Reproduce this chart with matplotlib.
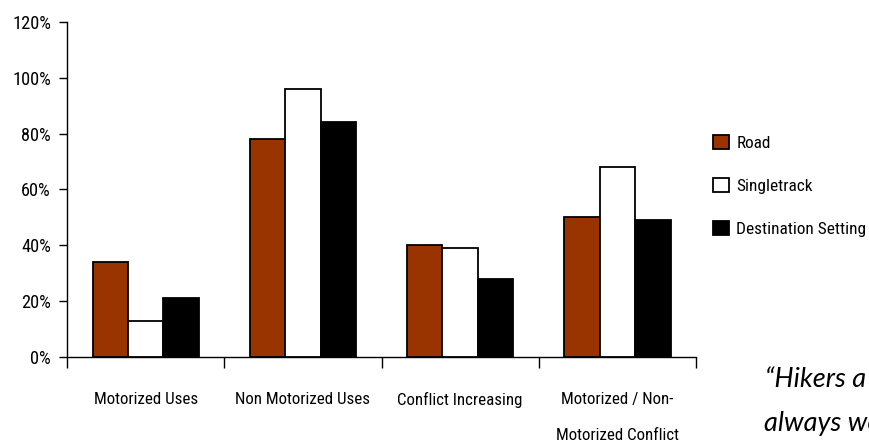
import matplotlib
matplotlib.use("Agg")
import matplotlib.pyplot as plt
from matplotlib.patches import Patch
import numpy as np

categories = ["Motorized Uses", "Non Motorized Uses", "Conflict Increasing",
              "Motorized / Non-\nMotorized Conflict"]
series_names = ["Road", "Singletrack", "Destination Setting"]
road = [34, 78, 40, 50]
singletrack = [13, 96, 39, 68]
destination = [21, 84, 28, 49]
y_ticks = [0, 20, 40, 60, 80, 100, 120]
y_tick_labels = ["0%", "20%", "40%", "60%", "80%", "100%", "120%"]

colors = ["#993300", "#FFFFFF", "#000000"]
font = ["Roboto Condensed", "DejaVu Sans"]
stretch = "condensed"

fig = plt.figure(figsize=(8.69, 4.45), dpi=100)
ax = fig.add_axes([0.0771, 0.1978, 0.7239, 0.7528])

x = np.arange(len(categories))
width = 0.225
for i, (vals, col) in enumerate(zip([road, singletrack, destination], colors)):
    ax.bar(x + (i - 1) * width, vals, width, color=col, edgecolor="black",
           linewidth=1.3, label=series_names[i], zorder=3)

ax.set_xlim(-0.5, len(categories) - 0.5)
ax.set_ylim(0, 120)
ax.set_yticks(y_ticks)
ax.set_yticklabels(y_tick_labels, fontfamily=font, fontstretch=stretch, fontsize=13.2)
ax.set_xticks(x)
ax.set_xticklabels(categories, fontfamily=font, fontstretch=stretch, fontsize=12.2,
                   linespacing=2.75)
ax.tick_params(axis="x", length=0, pad=25)
ax.set_xticks(np.arange(len(categories) + 1) - 0.5, minor=True)
ax.tick_params(axis="x", which="minor", length=8, width=1, direction="out")
ax.tick_params(axis="y", length=6, width=1, direction="out", pad=5.5)

for s in ["top", "right"]:
    ax.spines[s].set_visible(False)
ax.spines["left"].set_bounds(0, 120)
for s in ["left", "bottom"]:
    ax.spines[s].set_linewidth(1)

handles = [Patch(facecolor=c, edgecolor="black", linewidth=1.3) for c in colors]
fig.legend(handles, series_names, loc="upper left", bbox_to_anchor=(0.813, 0.713),
           frameon=False, prop={"family": font, "stretch": stretch, "size": 12.4},
           handlelength=0.93, handleheight=0.93, handletextpad=0.4,
           labelspacing=1.56, borderaxespad=0)

fig.text(0.880, 0.130, "\u201cHikers a", fontfamily="Lato", fontstyle="italic",
         fontsize=19.5, va="baseline", ha="left")
fig.text(0.879, 0.031, "always wo", fontfamily="Lato", fontstyle="italic",
         fontsize=19.5, va="baseline", ha="left")

fig.savefig("out.png", dpi=100)
